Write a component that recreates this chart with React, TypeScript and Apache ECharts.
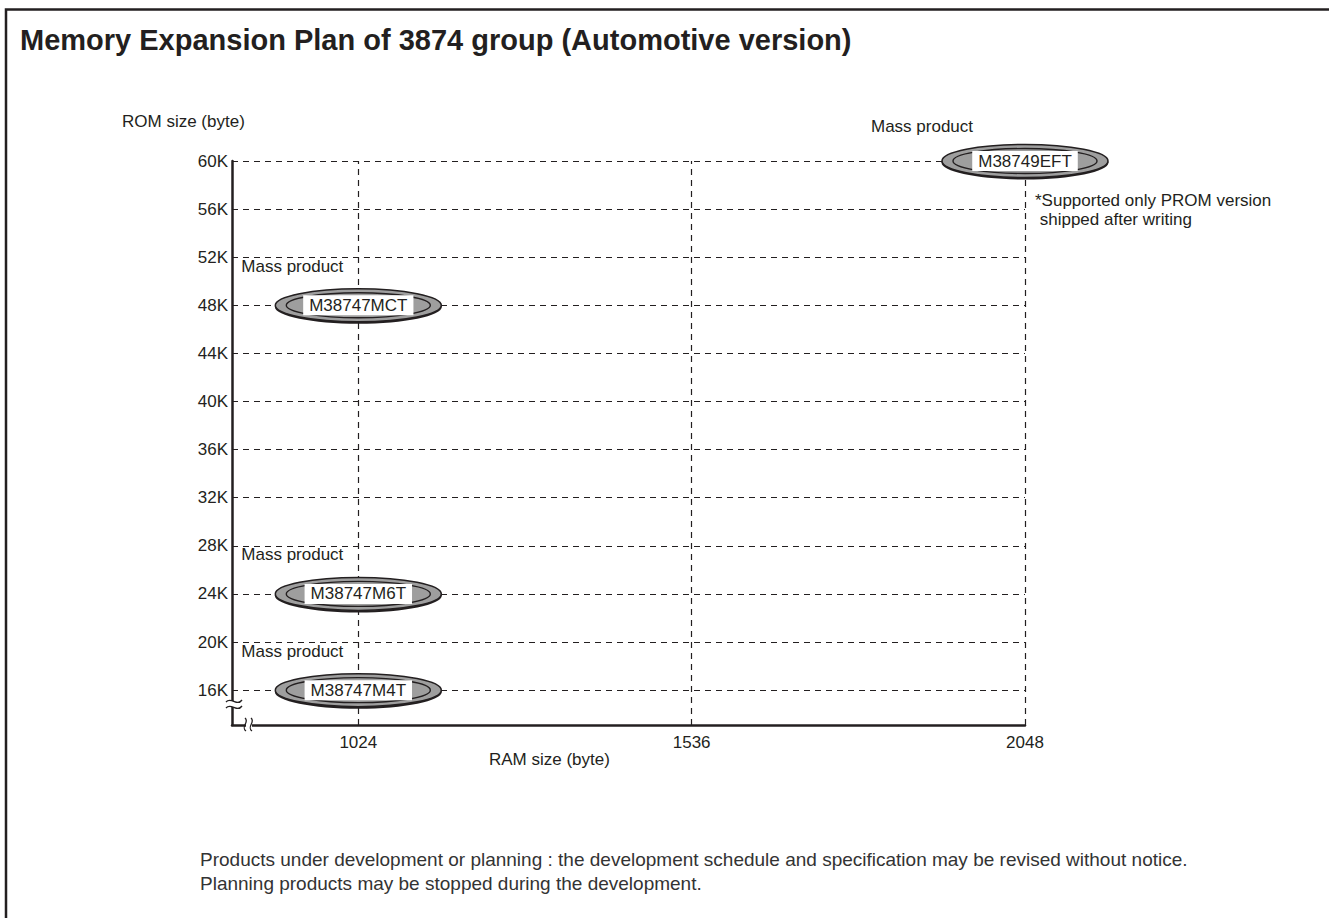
import React, { useEffect, useRef } from "react";
import * as echarts from "echarts";

// ---- data ----
const ramTicks = [1024, 1536, 2048];
const romTicks = [16, 20, 24, 28, 32, 36, 40, 44, 48, 52, 56, 60];
const productNames = ["M38747M4T", "M38747M6T", "M38747MCT", "M38749EFT"];
const productRam = [1024, 1024, 1024, 2048];
const productRom = [16, 24, 48, 60];
const productStatus = ["Mass product", "Mass product", "Mass product", "Mass product"];
const ramMin = 830;
const ramMax = 2048;
const romMin = 13.1;
const romMax = 60;

const FONT = "'Liberation Sans', Arial, Helvetica, sans-serif";
const INK = "#231f20";

export default function App() {
  const ref = useRef<HTMLDivElement>(null);

  useEffect(() => {
    if (!ref.current) return;
    const chart = echarts.init(ref.current, undefined, { renderer: "svg" });

    const hLines = romTicks.map((v) => [{ coord: [ramMin, v] }, { coord: [ramMax, v] }]);
    const vLines = ramTicks.map((v) => [{ coord: [v, romMin] }, { coord: [v, romMax] }]);

    const option: any = {
      animation: false,
      backgroundColor: "#fff",
      textStyle: { fontFamily: FONT },
      title: {
        text: "Memory Expansion Plan of 3874 group (Automotive version)",
        left: 15,
        top: 20,
        textStyle: { fontSize: 29, fontWeight: "bold", color: INK, fontFamily: FONT },
      },
      grid: { left: 232, top: 161, width: 793, height: 564, containLabel: false },
      xAxis: {
        type: "value",
        min: ramMin,
        max: ramMax,
        axisLine: { show: true, lineStyle: { color: INK, width: 2.5 } },
        axisTick: { show: false },
        splitLine: { show: false },
        axisLabel: {
          customValues: ramTicks,
          formatter: (v: number) => String(v),
          color: INK,
          fontSize: 17,
          fontFamily: FONT,
          margin: 9,
        },
      },
      yAxis: {
        type: "value",
        min: romMin,
        max: romMax,
        axisLine: { show: true, lineStyle: { color: INK, width: 2.5 } },
        axisTick: { show: false },
        splitLine: { show: false },
        axisLabel: {
          customValues: romTicks,
          formatter: (v: number) => `${v}K`,
          color: INK,
          fontSize: 17,
          fontFamily: FONT,
          margin: 4,
        },
      },
      series: [
        {
          type: "scatter",
          data: [],
          silent: true,
          markLine: {
            silent: true,
            symbol: ["none", "none"],
            label: { show: false },
            lineStyle: { color: INK, width: 1.2, type: [6, 5] },
            emphasis: { disabled: true },
            data: [...hLines, ...vLines],
          },
        },
        {
          type: "custom",
          z: 5,
          silent: true,
          encode: { x: 0, y: 1 },
          data: productRam.map((r, i) => [r, productRom[i]]),
          renderItem: (params: any, api: any) => {
            const c = api.coord([api.value(0), api.value(1)]);
            const cx = c[0];
            const cy = c[1];
            const idx = params.dataIndex;
            const right = api.value(0) >= ramMax;
            return {
              type: "group",
              children: [
                { type: "ellipse", shape: { cx, cy: cy + 1.5, rx: 83.5, ry: 17 }, style: { fill: INK } },
                {
                  type: "ellipse",
                  shape: { cx, cy, rx: 83, ry: 16.5 },
                  style: { fill: "#9e9e9e", stroke: INK, lineWidth: 1.5 },
                },
                {
                  type: "ellipse",
                  shape: { cx, cy, rx: 72, ry: 12.5 },
                  style: { fill: "none", stroke: INK, lineWidth: 1.4 },
                },
                {
                  type: "text",
                  style: {
                    text: productNames[idx],
                    x: cx,
                    y: cy,
                    align: "center",
                    verticalAlign: "middle",
                    textAlign: "center",
                    textVerticalAlign: "middle",
                    font: `17px ${FONT}`,
                    fill: INK,
                    backgroundColor: "#fff",
                    padding: [2, 6, 1, 6],
                  },
                },
                {
                  type: "text",
                  style: {
                    text: productStatus[idx],
                    x: right ? cx - 103 : cx - 117,
                    y: cy - (right ? 35 : 39),
                    align: right ? "center" : "left",
                    verticalAlign: "middle",
                    textAlign: right ? "center" : "left",
                    textVerticalAlign: "middle",
                    font: `17px ${FONT}`,
                    fill: INK,
                  },
                },
              ],
            };
          },
        },
      ],
      graphic: [
        {
          type: "rect",
          shape: { x: 6, y: 9.5, width: 1400, height: 1000 },
          style: { fill: "none", stroke: INK, lineWidth: 2.5 },
          silent: true,
        },
        {
          type: "text",
          left: 122,
          top: 113,
          style: { text: "ROM size (byte)", font: `17px ${FONT}`, fill: INK },
        },
        {
          type: "text",
          left: 489,
          top: 751,
          style: { text: "RAM size (byte)", font: `17px ${FONT}`, fill: INK },
        },
        {
          type: "text",
          left: 1035,
          top: 191,
          style: {
            text: "*Supported only PROM version\n shipped after writing",
            font: `17px ${FONT}`,
            fill: INK,
            lineHeight: 19,
          },
        },
        {
          type: "text",
          left: 200,
          top: 847,
          style: {
            text:
              "Products under development or planning : the development schedule and specification may be revised without notice.\nPlanning products may be stopped during the development.",
            font: `19px ${FONT}`,
            fill: "#333",
            lineHeight: 24,
          },
        },
        // axis break marks (y axis)
        { type: "rect", shape: { x: 229, y: 701, width: 7, height: 6 }, style: { fill: "#fff" }, z: 10 },
        {
          type: "bezierCurve",
          z: 11,
          shape: { x1: 226, y1: 702, cpx1: 231, cpy1: 696, cpx2: 237, cpy2: 707, x2: 242, y2: 700 },
          style: { stroke: INK, lineWidth: 1.3, fill: "none" },
        },
        {
          type: "bezierCurve",
          z: 11,
          shape: { x1: 226, y1: 708, cpx1: 231, cpy1: 702, cpx2: 237, cpy2: 713, x2: 242, y2: 706 },
          style: { stroke: INK, lineWidth: 1.3, fill: "none" },
        },
        // axis break marks (x axis)
        { type: "rect", shape: { x: 246, y: 722, width: 6, height: 6 }, style: { fill: "#fff" }, z: 10 },
        {
          type: "bezierCurve",
          z: 11,
          shape: { x1: 245, y1: 718, cpx1: 250, cpy1: 722, cpx2: 240, cpy2: 727, x2: 246, y2: 731 },
          style: { stroke: INK, lineWidth: 1.3, fill: "none" },
        },
        {
          type: "bezierCurve",
          z: 11,
          shape: { x1: 251, y1: 718, cpx1: 256, cpy1: 722, cpx2: 246, cpy2: 727, x2: 252, y2: 731 },
          style: { stroke: INK, lineWidth: 1.3, fill: "none" },
        },
      ],
    };

    chart.setOption(option);
    return () => chart.dispose();
  }, []);

  return (
    <div
      ref={ref}
      style={{ position: "absolute", left: 0, top: 0, width: 1329, height: 918, background: "#fff" }}
    />
  );
}
